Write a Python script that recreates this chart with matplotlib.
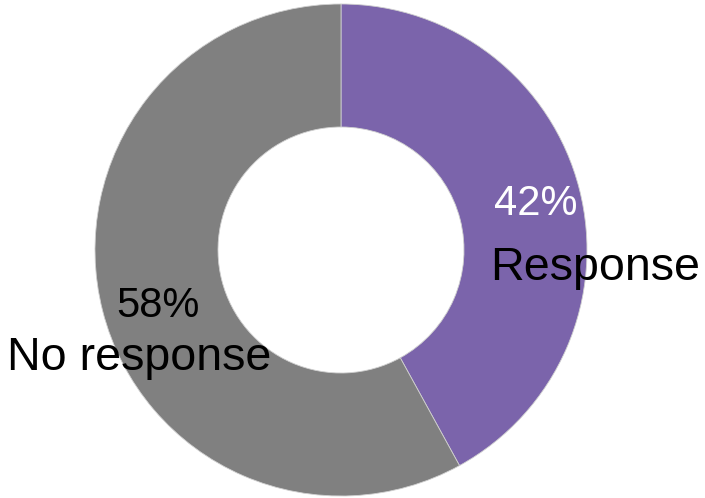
import matplotlib.pyplot as plt

# dados
categorias = ["Response", "No response"]
percentuais = [42, 58]
cores = ["#7B64AB", "#808080"]

plt.rcParams['font.family'] = ['Liberation Sans', 'DejaVu Sans']

fig = plt.figure(figsize=(7.05, 4.98), dpi=100)
ax = fig.add_axes([0, 0, 1, 1])

raio = 246
centro = (341, 498 - 250)
ax.pie(percentuais, colors=cores, startangle=90, counterclock=False,
       radius=raio, center=centro, frame=True,
       wedgeprops=dict(width=raio * 0.5, edgecolor='#d0d0d0', linewidth=0.6))
ax.set_xlim(0, 705)
ax.set_ylim(0, 498)
ax.set_aspect('equal')
ax.set_axis_off()

# rótulos (posições em pixels da imagem, y de cima para baixo)
rotulos = [
    (536, 215, f"{percentuais[0]}%", 'white', 30),
    (595, 280, categorias[0], 'black', 33.6),
    (158, 317, f"{percentuais[1]}%", 'black', 30),
    (139, 370, categorias[1], 'black', 33.6),
]
for x, y, txt, cor, tam in rotulos:
    ax.text(x, 498 - y, txt, color=cor, fontsize=tam, ha='center', va='baseline')

fig.savefig("out.png", dpi=100)
